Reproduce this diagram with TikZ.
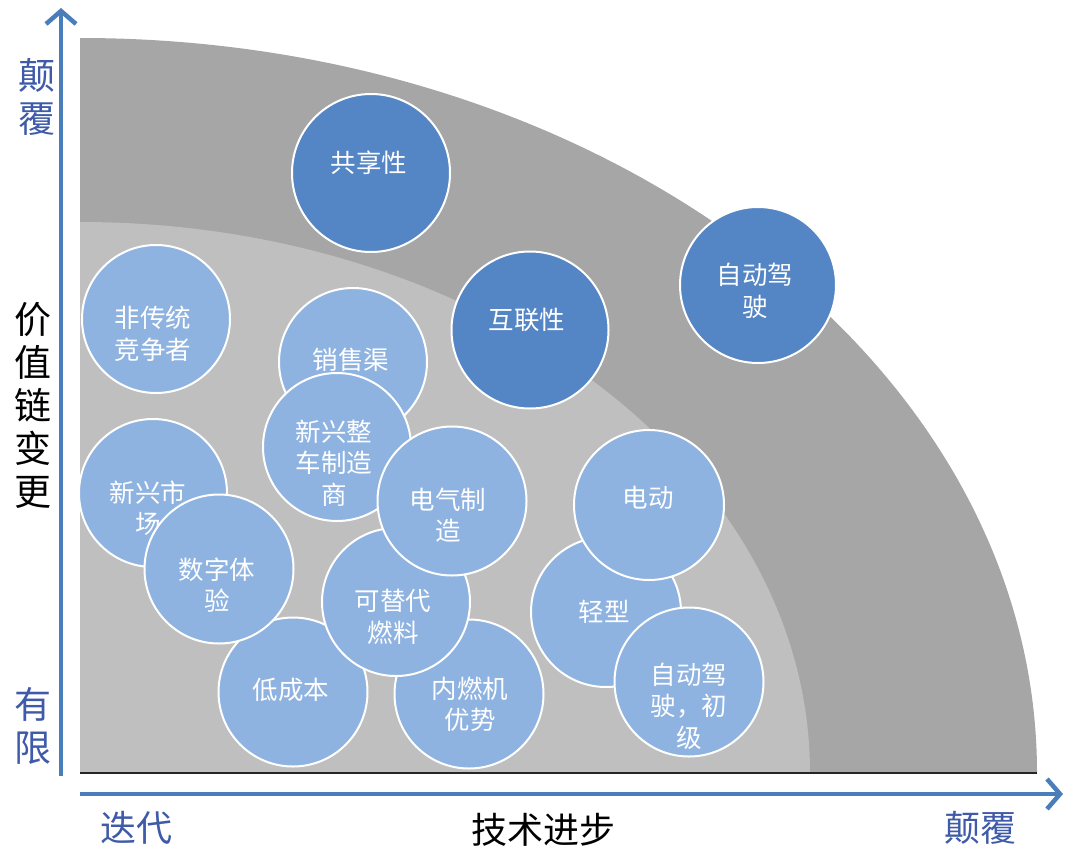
\documentclass[tikz,border=0pt]{standalone}
\usepackage{fontspec}
\setmainfont{Noto Sans CJK SC}
\usetikzlibrary{arrows.meta,calc}
\definecolor{outergray}{RGB}{166,166,166}
\definecolor{innergray}{RGB}{191,191,191}
\definecolor{darkbub}{RGB}{84,133,197}
\definecolor{lightbub}{RGB}{142,179,225}
\definecolor{axisblue}{RGB}{74,126,187}
\definecolor{lblblue}{RGB}{62,90,168}
\begin{document}
\begin{tikzpicture}[x=1pt,y=-1pt,
  bub/.style={circle, draw=white, line width=2pt, inner sep=0pt},
  dbub/.style={bub, fill=darkbub},
  lbub/.style={bub, fill=lightbub},
  btxt/.style={text=white, font=\fontsize{25.5}{31.5}\selectfont, align=center, inner sep=0pt},
  axlbl/.style={font=\fontsize{37}{43}\selectfont, align=center, inner sep=0pt},
  axisline/.style={axisblue, line width=4.5pt, -{Straight Barb[length=13pt,width=30pt]}}]
\useasboundingbox (0,0) rectangle (1073,849);
% background quarter shapes
\begin{scope}
  \clip (80,0) rectangle (1073,773);
  \fill[outergray] (80,773) ellipse [x radius=957, y radius=735];
  \fill[innergray] (80,773) ellipse [x radius=730, y radius=551];
\end{scope}
\coordinate (bl) at (80,773);
\coordinate (br) at (1037,773);
\draw[line width=2.5pt, black!85] (bl) -- (br);
% axes
\coordinate (vstart) at (61,776);
\coordinate (vend) at (61,8);
\coordinate (hstart) at (80,794);
\coordinate (hend) at (1063,794);
\draw[axisline] (vstart) -- (vend);
\draw[axisline] (hstart) -- (hend);
% axis labels
\node[axlbl, text=lblblue] (ltop) at (37,97) {颠\\覆};
\node[axlbl] (lmid) at (33,405) {价\\值\\链\\变\\更};
\node[axlbl, text=lblblue] (lbot) at (33,726) {有\\限};
\node[axlbl, text=lblblue, font=\fontsize{36}{43}\selectfont] (bleft) at (136,828) {迭代};
\node[axlbl, font=\fontsize{36}{43}\selectfont] (bmid) at (543,830) {技术进步};
\node[axlbl, text=lblblue, font=\fontsize{36}{43}\selectfont] (bright) at (980,828) {颠覆};
% dark bubbles
\node[dbub, minimum size=158pt] (gx) at (371,173) {};
\node[btxt] (gxt) at (369,163) {共享性};
\node[dbub, minimum size=157pt] (hl) at (530,330) {};
\node[btxt] (hlt) at (527,320) {互联性};
\node[dbub, minimum size=156pt] (zd) at (758,285) {};
\node[btxt] (zdt) at (755,291) {自动驾\\驶};
% light bubbles
\node[lbub, minimum size=148pt] (fct) at (156,319) {};
\node[btxt] (fctt) at (153,334) {非传统\\竞争者};
\node[lbub, minimum size=148pt] (xsq) at (353,362) {};
\node[btxt] (xsqt) at (351,360) {销售渠};
\node[lbub, minimum size=148pt] (xxz) at (337,447) {};
\node[btxt] (xxzt) at (334,463) {新兴整\\车制造\\商};
\node[lbub, minimum size=148pt] (xxs) at (153,493) {};
\node[btxt] (xxst) at (148,508) {新兴市\\场};
\node[lbub, minimum size=149pt] (dcb) at (293,692) {};
\node[btxt] (dcbt) at (291,690) {低成本};
\node[lbub, minimum size=149pt] (szt) at (219,569) {};
\node[btxt] (sztt) at (217,585) {数字体\\验};
\node[lbub, minimum size=149pt] (nrj) at (469,694) {};
\node[btxt] (nrjt) at (470,704) {内燃机\\优势};
\node[lbub, minimum size=148pt] (ktd) at (396,602) {};
\node[btxt] (ktdt) at (393,617) {可替代\\燃料};
\node[lbub, minimum size=149pt] (dqz) at (452,501) {};
\node[btxt] (dqzt) at (448,515) {电气制\\造};
\node[lbub, minimum size=150pt] (qx) at (606,612) {};
\node[btxt] (qxt) at (604,612) {轻型};
\node[lbub, minimum size=150pt] (dd) at (649,505) {};
\node[btxt] (ddt) at (648,498) {电动};
\node[lbub, minimum size=149pt] (zdc) at (689,682) {};
\node[btxt] (zdct) at (689,706) {自动驾\\驶，初\\级};
\end{tikzpicture}
\end{document}
